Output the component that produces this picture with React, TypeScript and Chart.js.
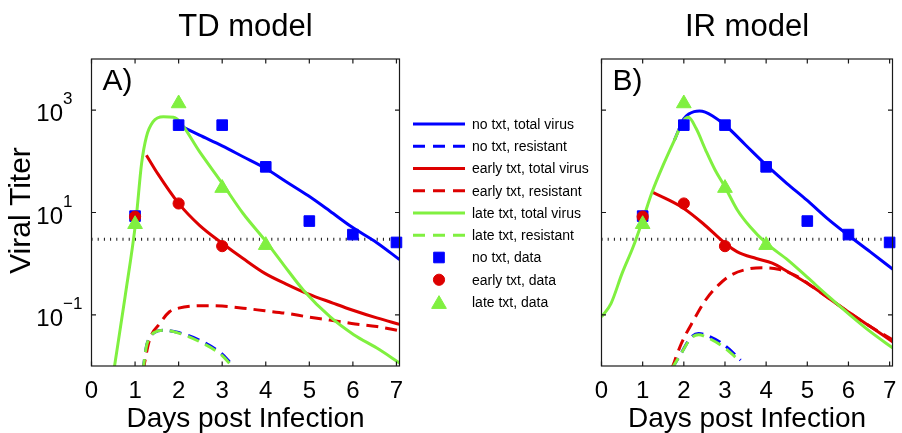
import React, { useEffect, useRef } from 'react';
import Chart from 'chart.js/auto';

const FONT = '"Liberation Sans", Arial, Helvetica, sans-serif';
const BLUE = '#0000ff';
const RED = '#dd0000';
const GREEN = '#80f040';

// axes
const dayTicks = [0, 1, 2, 3, 4, 5, 6, 7];
const titerTicks = [0.1, 10, 1000];
const dayMax = 7.07;
const titerMin = 0.01;
const titerMax = 10000;
const detectionLimit = 3;

// measured titers (same in both panels)
const noTxtDays = [1, 2, 3, 4, 5, 6, 7];
const noTxtTiter = [8.5, 510, 510, 78, 6.8, 3.7, 2.6];
const earlyTxtDays = [1, 2, 3];
const earlyTxtTiter = [8.3, 15, 2.2];
const lateTxtDays = [1, 2, 3, 4];
const lateTxtTiter = [5.9, 1350, 30, 2.3];

// TD model fits
const tdNoTotalDays = [2.0, 2.48, 3.0, 3.48, 3.98, 4.47, 4.97, 5.47, 5.97, 6.55, 7.07];
const tdNoTotal = [513, 324, 200, 123, 74, 40, 21.4, 10.7, 5.25, 2.57, 1.2];
const tdNoResDays = [1.18, 1.26, 1.33, 1.44, 1.65, 2.0, 2.48, 3.0, 3.17];
const tdNoRes = [0.008, 0.024, 0.035, 0.045, 0.05, 0.045, 0.032, 0.017, 0.012];
const tdEarlyTotalDays = [1.26, 1.52, 2.0, 2.48, 3.0, 3.48, 3.98, 4.47, 4.97, 5.54, 6.0, 6.55, 7.07];
const tdEarlyTotal = [132, 57.5, 15.1, 5.62, 2.51, 1.26, 0.646, 0.4, 0.257, 0.17, 0.123, 0.087, 0.065];
const tdEarlyResDays = [1.18, 1.33, 1.57, 1.79, 2.0, 2.48, 3.0, 3.48, 3.98, 4.47, 4.97, 5.47, 5.97, 6.55, 7.07];
const tdEarlyRes = [0.0079, 0.032, 0.068, 0.115, 0.135, 0.151, 0.148, 0.135, 0.12, 0.107, 0.091, 0.079, 0.068, 0.059, 0.049];
const tdLateTotalDays = [0.52, 0.77, 1.02, 1.15, 1.26, 1.41, 1.65, 1.88, 2.03, 2.48, 3.0, 3.48, 3.98, 4.41, 4.87, 5.48, 6.02, 6.55, 7.07];
const tdLateTotal = [0.0089, 0.224, 7.08, 91, 302, 589, 741, 724, 589, 155, 37.2, 9.55, 2.88, 0.95, 0.3, 0.091, 0.041, 0.0224, 0.0115];
const tdLateResDays = [1.18, 1.26, 1.33, 1.44, 1.65, 2.0, 2.48, 3.0, 3.17];
const tdLateRes = [0.008, 0.024, 0.035, 0.045, 0.05, 0.044, 0.03, 0.016, 0.0112];

// IR model fits
const irNoTotalDays = [1.77, 2.0, 2.12, 2.25, 2.38, 2.52, 2.7, 3.0, 3.5, 4.0, 4.5, 4.99, 5.49, 5.99, 6.53, 7.08];
const irNoTotal = [257, 680, 840, 935, 960, 915, 770, 513, 209, 85, 37.2, 17.4, 7.59, 3.63, 1.7, 0.776];
const irNoResDays = [1.71, 1.94, 2.17, 2.36, 2.61, 3.0, 3.38];
const irNoRes = [0.0089, 0.018, 0.036, 0.043, 0.038, 0.025, 0.013];
const irEarlyTotalDays = [1.23, 1.54, 2.0, 2.46, 3.0, 3.3, 3.76, 4.15, 4.53, 4.99, 5.53, 5.99, 6.53, 7.08];
const irEarlyTotal = [25.1, 19.1, 12.0, 6.17, 2.51, 1.7, 1.26, 1.02, 0.69, 0.417, 0.209, 0.115, 0.059, 0.0295];
const irEarlyResDays = [1.71, 1.94, 2.24, 2.53, 2.84, 3.15, 3.53, 3.92, 4.3, 4.69, 5.07, 5.53, 5.99, 6.53, 7.08];
const irEarlyRes = [0.0089, 0.0275, 0.079, 0.195, 0.38, 0.6, 0.776, 0.83, 0.776, 0.6, 0.38, 0.209, 0.115, 0.059, 0.0324];
const irLateTotalDays = [0, 0.23, 0.5, 0.77, 1.0, 1.23, 1.5, 1.77, 2.0, 2.11, 2.3, 2.53, 2.76, 3.0, 3.3, 3.61, 4.0, 4.53, 4.99, 5.53, 5.99, 6.53, 7.08];
const irLateTotal = [0.091, 0.166, 0.646, 2.14, 7.08, 25.1, 85, 257, 631, 724, 437, 166, 67.6, 31.6, 11.2, 5.25, 2.51, 1.17, 0.55, 0.224, 0.107, 0.047, 0.0224];
const irLateResDays = [1.71, 1.94, 2.17, 2.36, 2.61, 3.0, 3.38];
const irLateRes = [0.0089, 0.0178, 0.0347, 0.0407, 0.0347, 0.0224, 0.012];

const legendLabels = [
    'no txt, total virus', 'no txt, resistant',
    'early txt, total virus', 'early txt, resistant',
    'late txt, total virus', 'late txt, resistant',
    'no txt, data', 'early txt, data', 'late txt, data',
];

const pts = (xs: number[], ys: number[]) => xs.map((x, i) => ({ x, y: ys[i] }));

const curve = (label: string, xs: number[], ys: number[], color: string, dashed: boolean, order: number) => ({
    label,
    data: pts(xs, ys),
    borderColor: color,
    backgroundColor: color,
    borderWidth: 3,
    borderDash: dashed ? [12, 7] : [],
    pointRadius: 0,
    cubicInterpolationMode: 'monotone',
    fill: false,
    clip: 0,
    order,
});

const markers = (label: string, xs: number[], ys: number[], color: string, style: string, radius: number, order: number) => ({
    label,
    data: pts(xs, ys),
    showLine: false,
    pointStyle: style,
    pointRadius: radius,
    pointBackgroundColor: color,
    pointBorderColor: color,
    pointBorderWidth: 1,
    borderColor: color,
    backgroundColor: color,
    clip: false,
    order,
});

// lower order is drawn on top: late markers > early > no txt > green > red > blue > limit
const buildDatasets = (c: any) => [
    curve(legendLabels[0], c.noTotalDays, c.noTotal, BLUE, false, 5),
    curve(legendLabels[1], c.noResDays, c.noRes, BLUE, true, 5),
    curve(legendLabels[2], c.earlyTotalDays, c.earlyTotal, RED, false, 4),
    curve(legendLabels[3], c.earlyResDays, c.earlyRes, RED, true, 4),
    curve(legendLabels[4], c.lateTotalDays, c.lateTotal, GREEN, false, 3),
    curve(legendLabels[5], c.lateResDays, c.lateRes, GREEN, true, 3),
    markers(legendLabels[6], noTxtDays, noTxtTiter, BLUE, 'rect', 7.5, 2),
    markers(legendLabels[7], earlyTxtDays, earlyTxtTiter, RED, 'circle', 5.6, 1),
    markers(legendLabels[8], lateTxtDays, lateTxtTiter, GREEN, 'triangle', 8.5, 0),
    {
        label: '',
        data: [{ x: 0, y: detectionLimit }, { x: dayMax, y: detectionLimit }],
        borderColor: '#111',
        borderWidth: 3,
        borderDash: [1, 5.2],
        pointRadius: 0,
        clip: 0,
        order: 6,
    },
];

const tdCurves = {
    noTotalDays: tdNoTotalDays, noTotal: tdNoTotal, noResDays: tdNoResDays, noRes: tdNoRes,
    earlyTotalDays: tdEarlyTotalDays, earlyTotal: tdEarlyTotal, earlyResDays: tdEarlyResDays, earlyRes: tdEarlyRes,
    lateTotalDays: tdLateTotalDays, lateTotal: tdLateTotal, lateResDays: tdLateResDays, lateRes: tdLateRes,
};
const irCurves = {
    noTotalDays: irNoTotalDays, noTotal: irNoTotal, noResDays: irNoResDays, noRes: irNoRes,
    earlyTotalDays: irEarlyTotalDays, earlyTotal: irEarlyTotal, earlyResDays: irEarlyResDays, earlyRes: irEarlyRes,
    lateTotalDays: irLateTotalDays, lateTotal: irLateTotal, lateResDays: irLateResDays, lateRes: irLateRes,
};

function drawMarker(ctx: CanvasRenderingContext2D, style: string, r: number, x: number, y: number) {
    ctx.beginPath();
    if (style === 'rect') {
        const s = r * Math.SQRT1_2;
        ctx.rect(x - s, y - s, 2 * s, 2 * s);
    } else if (style === 'circle') {
        ctx.arc(x, y, r, 0, Math.PI * 2);
    } else {
        ctx.moveTo(x, y - r);
        ctx.lineTo(x + Math.sin(Math.PI * 2 / 3) * r, y + 0.5 * r);
        ctx.lineTo(x - Math.sin(Math.PI * 2 / 3) * r, y + 0.5 * r);
        ctx.closePath();
    }
    ctx.fill();
    ctx.stroke();
}

const makeFramePlugin = (title: string, letter: string, withYAxis: boolean, withLegend: boolean) => ({
    id: 'frame',
    afterDatasetsDraw(chart: any) {
        const { ctx, chartArea: a } = chart;
        const x = chart.scales.x;
        const y = chart.scales.y;
        ctx.save();

        // box with inward ticks
        ctx.strokeStyle = '#1a1a1a';
        ctx.lineWidth = 1.2;
        ctx.setLineDash([]);
        ctx.strokeRect(a.left, a.top, a.right - a.left, a.bottom - a.top);
        const tl = 4.5;
        ctx.beginPath();
        dayTicks.forEach(d => {
            const px = x.getPixelForValue(d);
            ctx.moveTo(px, a.bottom); ctx.lineTo(px, a.bottom - tl);
            ctx.moveTo(px, a.top); ctx.lineTo(px, a.top + tl);
        });
        titerTicks.forEach(v => {
            const py = y.getPixelForValue(v);
            ctx.moveTo(a.left, py); ctx.lineTo(a.left + tl, py);
            ctx.moveTo(a.right, py); ctx.lineTo(a.right - tl, py);
        });
        ctx.stroke();

        ctx.fillStyle = '#000';
        ctx.textBaseline = 'alphabetic';

        // x tick labels and title
        ctx.font = `24px ${FONT}`;
        ctx.textAlign = 'center';
        dayTicks.forEach(d => ctx.fillText(String(d), x.getPixelForValue(d), a.bottom + 32));
        const cx = (a.left + a.right) / 2;
        ctx.font = `28px ${FONT}`;
        ctx.fillText('Days post Infection', cx, a.bottom + 61);

        // panel title and letter
        ctx.font = `31px ${FONT}`;
        ctx.fillText(title, cx, a.top - 23);
        ctx.textAlign = 'left';
        ctx.font = `30px ${FONT}`;
        ctx.fillText(letter, a.left + 11, a.top + 31);

        if (withYAxis) {
            titerTicks.forEach(v => {
                const py = y.getPixelForValue(v);
                const exp = Math.round(Math.log10(v));
                ctx.textAlign = 'right';
                ctx.font = `24px ${FONT}`;
                ctx.fillText('10', a.left - 28.5, py + 11);
                ctx.textAlign = 'left';
                ctx.font = `17px ${FONT}`;
                ctx.fillText(exp < 0 ? '\u2212' + Math.abs(exp) : String(exp), a.left - 28.5, py - 6);
            });
            ctx.save();
            ctx.translate(30, (a.top + a.bottom) / 2 - 2);
            ctx.rotate(-Math.PI / 2);
            ctx.textAlign = 'center';
            ctx.font = `30px ${FONT}`;
            ctx.fillText('Viral Titer', 0, 0);
            ctx.restore();
        }

        if (withLegend) {
            const rowY = 124;
            const rowH = 22.25;
            ctx.font = `14px ${FONT}`;
            ctx.textBaseline = 'middle';
            chart.data.datasets.filter((ds: any) => ds.label).forEach((ds: any, i: number) => {
                const ry = rowY + i * rowH;
                ctx.strokeStyle = ds.borderColor;
                ctx.fillStyle = ds.borderColor;
                if (ds.showLine === false) {
                    ctx.lineWidth = ds.pointBorderWidth;
                    ctx.setLineDash([]);
                    const off = ds.pointStyle === 'triangle' ? ds.pointRadius * 0.25 : 0;
                    drawMarker(ctx, ds.pointStyle, ds.pointRadius, 439, ry + off);
                } else {
                    ctx.lineWidth = ds.borderWidth;
                    ctx.setLineDash(ds.borderDash && ds.borderDash.length ? [12, 8] : []);
                    ctx.beginPath();
                    ctx.moveTo(413, ry);
                    ctx.lineTo(465, ry);
                    ctx.stroke();
                }
                ctx.setLineDash([]);
                ctx.fillStyle = '#000';
                ctx.textAlign = 'left';
                ctx.fillText(ds.label, 472, ry + 1);
            });
        }
        ctx.restore();
    },
});

interface PanelProps {
    title: string;
    letter: string;
    curves: any;
    left: number;
    width: number;
    padLeft: number;
    padRight: number;
    withYAxis?: boolean;
    withLegend?: boolean;
}

const ModelPanel: React.FC<PanelProps> = ({ title, letter, curves, left, width, padLeft, padRight, withYAxis = false, withLegend = false }) => {
    const canvasRef = useRef<HTMLCanvasElement>(null);
    const chartRef = useRef<Chart | null>(null);

    useEffect(() => {
        if (!canvasRef.current) return;
        if (chartRef.current) chartRef.current.destroy();

        chartRef.current = new Chart(canvasRef.current, {
            type: 'line',
            data: { datasets: buildDatasets(curves) as any },
            options: {
                animation: false,
                responsive: false,
                parsing: false as any,
                layout: { padding: { left: padLeft, right: padRight, top: 59, bottom: 67 } },
                scales: {
                    x: { type: 'linear', min: 0, max: dayMax, display: false },
                    y: { type: 'logarithmic', min: titerMin, max: titerMax, display: false },
                },
                plugins: {
                    legend: { display: false },
                    tooltip: { enabled: false },
                },
            },
            plugins: [makeFramePlugin(title, letter, withYAxis, withLegend)],
        });

        return () => {
            if (chartRef.current) {
                chartRef.current.destroy();
                chartRef.current = null;
            }
        };
    }, [title, letter, curves]);

    return (
        <canvas
            ref={canvasRef}
            width={width}
            height={433}
            style={{ position: 'absolute', left, top: 0, width, height: 433 }}
        />
    );
};

export default function App() {
    return (
        <div style={{ position: 'fixed', left: 0, top: 0, width: 902, height: 433, background: '#fff', overflow: 'hidden' }}>
            <ModelPanel title="TD model" letter="A)" curves={tdCurves} left={0} width={592} padLeft={91.5} padRight={192.5} withYAxis withLegend />
            <ModelPanel title="IR model" letter="B)" curves={irCurves} left={592} width={310} padLeft={1.3} padRight={1.2} />
        </div>
    );
}
